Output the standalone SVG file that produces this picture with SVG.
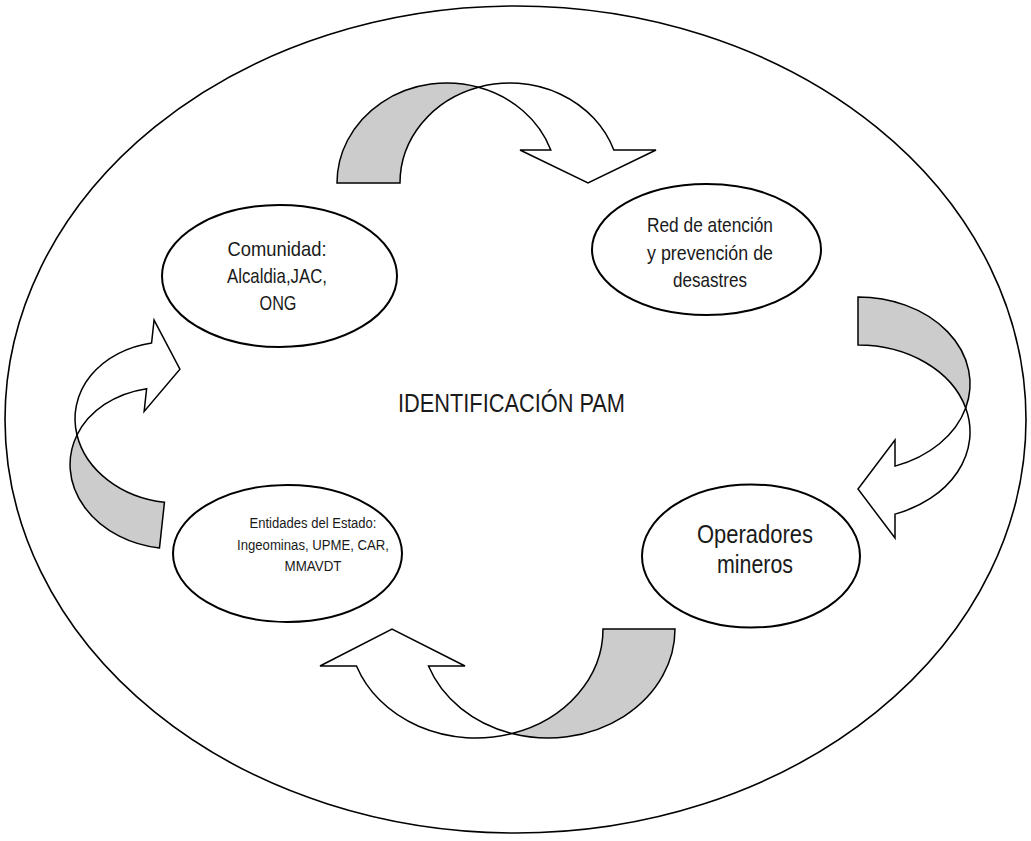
<svg xmlns="http://www.w3.org/2000/svg" width="1031" height="841" viewBox="0 0 1031 841">
  <style>
    .frame { fill: #ffffff; stroke: #000000; stroke-width: 1.6; }
    .node { fill: #ffffff; stroke: #000000; stroke-width: 2; }
    .back { fill: #cccccc; stroke: #000000; stroke-width: 1.5; stroke-linejoin: miter; }
    .front { fill: #ffffff; stroke: #000000; stroke-width: 1.5; stroke-linejoin: miter; }
    text { font-family: "Liberation Sans Narrow", "Arial Narrow", "Liberation Sans", Arial, sans-serif; fill: #1a1a1a; text-anchor: middle; }
    .t21 { font-size: 21px; }
    .t15 { font-size: 15.5px; }
    .t26 { font-size: 26.5px; }
  </style>

  <rect x="0" y="0" width="1031" height="841" fill="#ffffff"/>

  <!-- outer boundary -->
  <ellipse class="frame" cx="515.5" cy="419.5" rx="510.5" ry="413.5"/>

  <g id="title">
    <text x="511.5" y="412" font-size="26.4" textLength="227" lengthAdjust="spacingAndGlyphs">IDENTIFICACIÓN PAM</text>
  </g>

  <!-- curved cycle arrows -->
  <g id="connectors">
    <!-- top: Comunidad -> Red -->
    <g id="arrow-top">
      <path class="back" d="M337,183 A110,100 0 0 1 478.5,87.2 A110,100 0 0 0 400,183 Z"/>
      <path class="front" d="M478.5,87.2 A110,100 0 0 1 613.8,150 L656,150 L588,183 L520,150 L550.8,150 A110,100 0 0 0 478.5,87.2 Z"/>
    </g>
    <!-- right: Red -> Operadores -->
    <g id="arrow-right">
      <path class="back" d="M858,297 A112,87 0 0 1 965.7,408 A112,87 0 0 0 858,345 Z"/>
      <path class="front" d="M965.7,408 A112,87 0 0 1 895,514.1 L895,538 L858,489 L895,440 L895,466.1 A112,87 0 0 0 965.7,408 Z"/>
    </g>
    <!-- bottom: Operadores -> Entidades -->
    <g id="arrow-bottom">
      <path class="back" d="M675,629 A127,109 0 0 1 512,733.5 A127,109 0 0 0 603,629 Z"/>
      <path class="front" d="M512,733.5 A127,109 0 0 1 356.5,666 L320,666 L392,629 L465,666 L428.5,666 A127,109 0 0 0 512,733.5 Z"/>
    </g>
    <!-- left: Entidades -> Comunidad -->
    <g id="arrow-left" transform="rotate(6.2 120 430)">
      <path class="back" d="M172,543 A98.3,80.4 0 0 1 77.8,439.6 A98.3,80.4 0 0 0 172,497 Z"/>
      <path class="front" d="M77.8,439.6 A98.3,80.4 0 0 1 142,340 L142,317 L173,363 L142,409 L142,386 A98.3,80.4 0 0 0 77.8,439.6 Z"/>
    </g>
  </g>

  <g id="node-comunidad">
    <ellipse class="node" cx="279.5" cy="276" rx="117.5" ry="71"/>
    <text class="t21" x="277" y="255.5" textLength="99" lengthAdjust="spacingAndGlyphs">Comunidad:</text>
    <text class="t21" x="277" y="283" textLength="100" lengthAdjust="spacingAndGlyphs">Alcaldia,JAC,</text>
    <text class="t21" x="278" y="310" textLength="37" lengthAdjust="spacingAndGlyphs">ONG</text>
  </g>

  <g id="node-red">
    <ellipse class="node" cx="706.5" cy="249.5" rx="114.5" ry="65.5"/>
    <text class="t21" x="710" y="231.5" textLength="126" lengthAdjust="spacingAndGlyphs">Red de atención</text>
    <text class="t21" x="710" y="259.5" textLength="126" lengthAdjust="spacingAndGlyphs">y prevención de</text>
    <text class="t21" x="710" y="287" textLength="74" lengthAdjust="spacingAndGlyphs">desastres</text>
  </g>

  <g id="node-operadores">
    <ellipse class="node" cx="751" cy="556" rx="109" ry="71.5"/>
    <text class="t26" x="755" y="543" textLength="116" lengthAdjust="spacingAndGlyphs">Operadores</text>
    <text class="t26" x="755" y="573" textLength="76" lengthAdjust="spacingAndGlyphs">mineros</text>
  </g>

  <g id="node-entidades">
    <ellipse class="node" cx="287.5" cy="553.5" rx="114.5" ry="68.5"/>
    <text class="t15" x="313" y="528" textLength="127" lengthAdjust="spacingAndGlyphs">Entidades del Estado:</text>
    <text class="t15" x="313" y="550" textLength="152" lengthAdjust="spacingAndGlyphs">Ingeominas, UPME, CAR,</text>
    <text class="t15" x="313" y="570.5" textLength="57" lengthAdjust="spacingAndGlyphs">MMAVDT</text>
  </g>
</svg>
